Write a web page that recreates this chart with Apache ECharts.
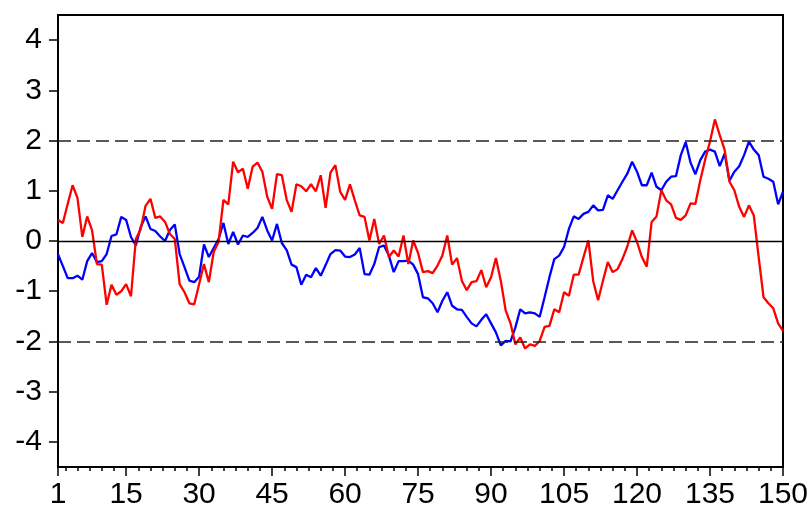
<!DOCTYPE html>
<html>
<head>
<meta charset="utf-8">
<title>Two series with ±2 bands</title>
<script src="https://cdn.jsdelivr.net/npm/echarts@6/dist/echarts.min.js"></script>
<style>
  html, body { margin: 0; padding: 0; background: #fff; }
  #chart { width: 812px; height: 511px; }
</style>
</head>
<body>
<div id="chart"></div>
<script>
// Observation values, one per period (1..150)
const seriesBlue = [
  -0.26, -0.50, -0.74, -0.74, -0.69, -0.77, -0.40, -0.24, -0.42, -0.40,
  -0.26, 0.10, 0.13, 0.48, 0.42, 0.08, -0.09, 0.28, 0.49, 0.24,
  0.20, 0.09, 0.00, 0.22, 0.33, -0.26, -0.52, -0.79, -0.82, -0.71,
  -0.07, -0.32, -0.14, 0.04, 0.36, -0.06, 0.18, -0.07, 0.11, 0.08,
  0.16, 0.26, 0.48, 0.21, 0.01, 0.34, -0.04, -0.18, -0.47, -0.52,
  -0.87, -0.67, -0.72, -0.54, -0.69, -0.48, -0.26, -0.18, -0.19, -0.31,
  -0.32, -0.27, -0.14, -0.66, -0.67, -0.46, -0.12, -0.09, -0.29, -0.62,
  -0.40, -0.40, -0.39, -0.47, -0.66, -1.12, -1.14, -1.24, -1.42, -1.19,
  -1.02, -1.29, -1.36, -1.37, -1.51, -1.64, -1.70, -1.57, -1.46, -1.64,
  -1.82, -2.08, -1.99, -2.00, -1.72, -1.36, -1.44, -1.42, -1.44, -1.51,
  -1.12, -0.72, -0.36, -0.29, -0.12, 0.24, 0.49, 0.44, 0.54, 0.58,
  0.71, 0.61, 0.62, 0.91, 0.84, 1.01, 1.18, 1.34, 1.58, 1.38,
  1.11, 1.11, 1.36, 1.08, 1.01, 1.18, 1.28, 1.29, 1.71, 1.97,
  1.56, 1.33, 1.61, 1.78, 1.82, 1.78, 1.49, 1.74, 1.20, 1.38,
  1.49, 1.71, 1.98, 1.82, 1.71, 1.28, 1.24, 1.18, 0.73, 0.98
];

const seriesRed = [
  0.42, 0.36, 0.74, 1.11, 0.86, 0.08, 0.49, 0.21, -0.46, -0.47,
  -1.27, -0.87, -1.07, -1.00, -0.86, -1.10, 0.04, 0.24, 0.70, 0.84,
  0.46, 0.49, 0.38, 0.14, 0.04, -0.86, -1.02, -1.24, -1.26, -0.86,
  -0.46, -0.82, -0.22, -0.02, 0.82, 0.73, 1.58, 1.37, 1.44, 1.04,
  1.48, 1.56, 1.38, 0.88, 0.64, 1.33, 1.31, 0.82, 0.58, 1.13,
  1.09, 0.99, 1.13, 0.99, 1.31, 0.66, 1.36, 1.51, 0.98, 0.82,
  1.13, 0.81, 0.51, 0.48, 0.01, 0.44, -0.06, 0.11, -0.32, -0.19,
  -0.31, 0.11, -0.46, 0.01, -0.24, -0.62, -0.60, -0.64, -0.49, -0.29,
  0.11, -0.47, -0.34, -0.79, -0.98, -0.82, -0.80, -0.58, -0.92, -0.72,
  -0.34, -0.79, -1.38, -1.64, -2.06, -1.92, -2.14, -2.06, -2.09, -1.99,
  -1.71, -1.69, -1.36, -1.42, -1.02, -1.09, -0.67, -0.67, -0.32, 0.01,
  -0.80, -1.18, -0.79, -0.42, -0.62, -0.56, -0.36, -0.11, 0.21, -0.02,
  -0.32, -0.51, 0.38, 0.49, 1.01, 0.81, 0.73, 0.46, 0.42, 0.51,
  0.75, 0.74, 1.21, 1.62, 1.98, 2.42, 2.11, 1.82, 1.18, 1.01,
  0.68, 0.48, 0.71, 0.51, -0.32, -1.12, -1.24, -1.34, -1.64, -1.79
];

// Axis labels and tick positions
const xTickLabels = [1, 15, 30, 45, 60, 75, 90, 105, 120, 135, 150];
const xMinorTicks = [
  2.5, 5, 7.5, 10, 12.5, 17.5, 20, 22.5, 25, 27.5,
  32.5, 35, 37.5, 40, 42.5, 47.5, 50, 52.5, 55, 57.5,
  62.5, 65, 67.5, 70, 72.5, 77.5, 80, 82.5, 85, 87.5,
  92.5, 95, 97.5, 100, 102.5, 107.5, 110, 112.5, 115, 117.5,
  122.5, 125, 127.5, 130, 132.5, 137.5, 140, 142.5, 145, 147.5
];
const yTickLabels = [-4, -3, -2, -1, 0, 1, 2, 3, 4];

// Reference levels: zero line and the ±2 bands
const zeroLevel = 0;
const bandLevels = [2, -2];

const FONT = '"Liberation Sans", Arial, Helvetica, sans-serif';

function toPairs(values) {
  return values.map((v, i) => [i + 1, v]);
}

const chart = echarts.init(document.getElementById('chart'), null, { renderer: 'canvas' });

const refLines = [{ yAxis: zeroLevel, lineStyle: { type: 'solid', width: 1.3, color: '#000' } }]
  .concat(bandLevels.map(v => ({ yAxis: v, lineStyle: { type: [13, 6], width: 1.5, color: '#222' } })));

chart.setOption({
  animation: false,
  backgroundColor: '#fff',
  grid: {
    left: 58, right: 29, top: 15, bottom: 44,
    show: true, borderColor: '#000', borderWidth: 2, backgroundColor: 'transparent'
  },
  xAxis: [
    {
      type: 'value', min: 1, max: 150, position: 'bottom',
      axisLine: { show: true, onZero: false, lineStyle: { color: '#000', width: 2 } },
      axisTick: { show: true, inside: false, length: 9, customValues: xTickLabels, lineStyle: { color: '#000', width: 1.5 } },
      axisLabel: { show: true, customValues: xTickLabels, margin: 13, color: '#000', fontSize: 30, fontFamily: FONT },
      splitLine: { show: false }
    },
    {
      type: 'value', min: 1, max: 150, position: 'bottom', gridIndex: 0,
      axisLine: { show: false, onZero: false },
      axisTick: { show: true, inside: false, length: 4, customValues: xMinorTicks, lineStyle: { color: '#000', width: 1.5 } },
      axisLabel: { show: false },
      splitLine: { show: false }
    }
  ],
  yAxis: {
    type: 'value', min: -4.5, max: 4.5,
    axisLine: { show: true, onZero: false, lineStyle: { color: '#000', width: 2 } },
    axisTick: { show: true, inside: false, length: 9, customValues: yTickLabels, lineStyle: { color: '#000', width: 1.5 } },
    axisLabel: { show: true, customValues: yTickLabels, margin: 16, color: '#000', fontSize: 30, fontFamily: FONT },
    splitLine: { show: false }
  },
  series: [
    {
      name: 'levels', type: 'line', data: [], z: 1,
      markLine: { silent: true, symbol: 'none', label: { show: false }, data: refLines, animation: false }
    },
    {
      name: 'Blue', type: 'line', data: toPairs(seriesBlue), z: 3,
      showSymbol: false, symbol: 'none',
      lineStyle: { color: '#0000FF', width: 2.3 }
    },
    {
      name: 'Red', type: 'line', data: toPairs(seriesRed), z: 4,
      showSymbol: false, symbol: 'none',
      lineStyle: { color: '#FF0000', width: 2.3 }
    }
  ]
});
</script>
</body>
</html>
